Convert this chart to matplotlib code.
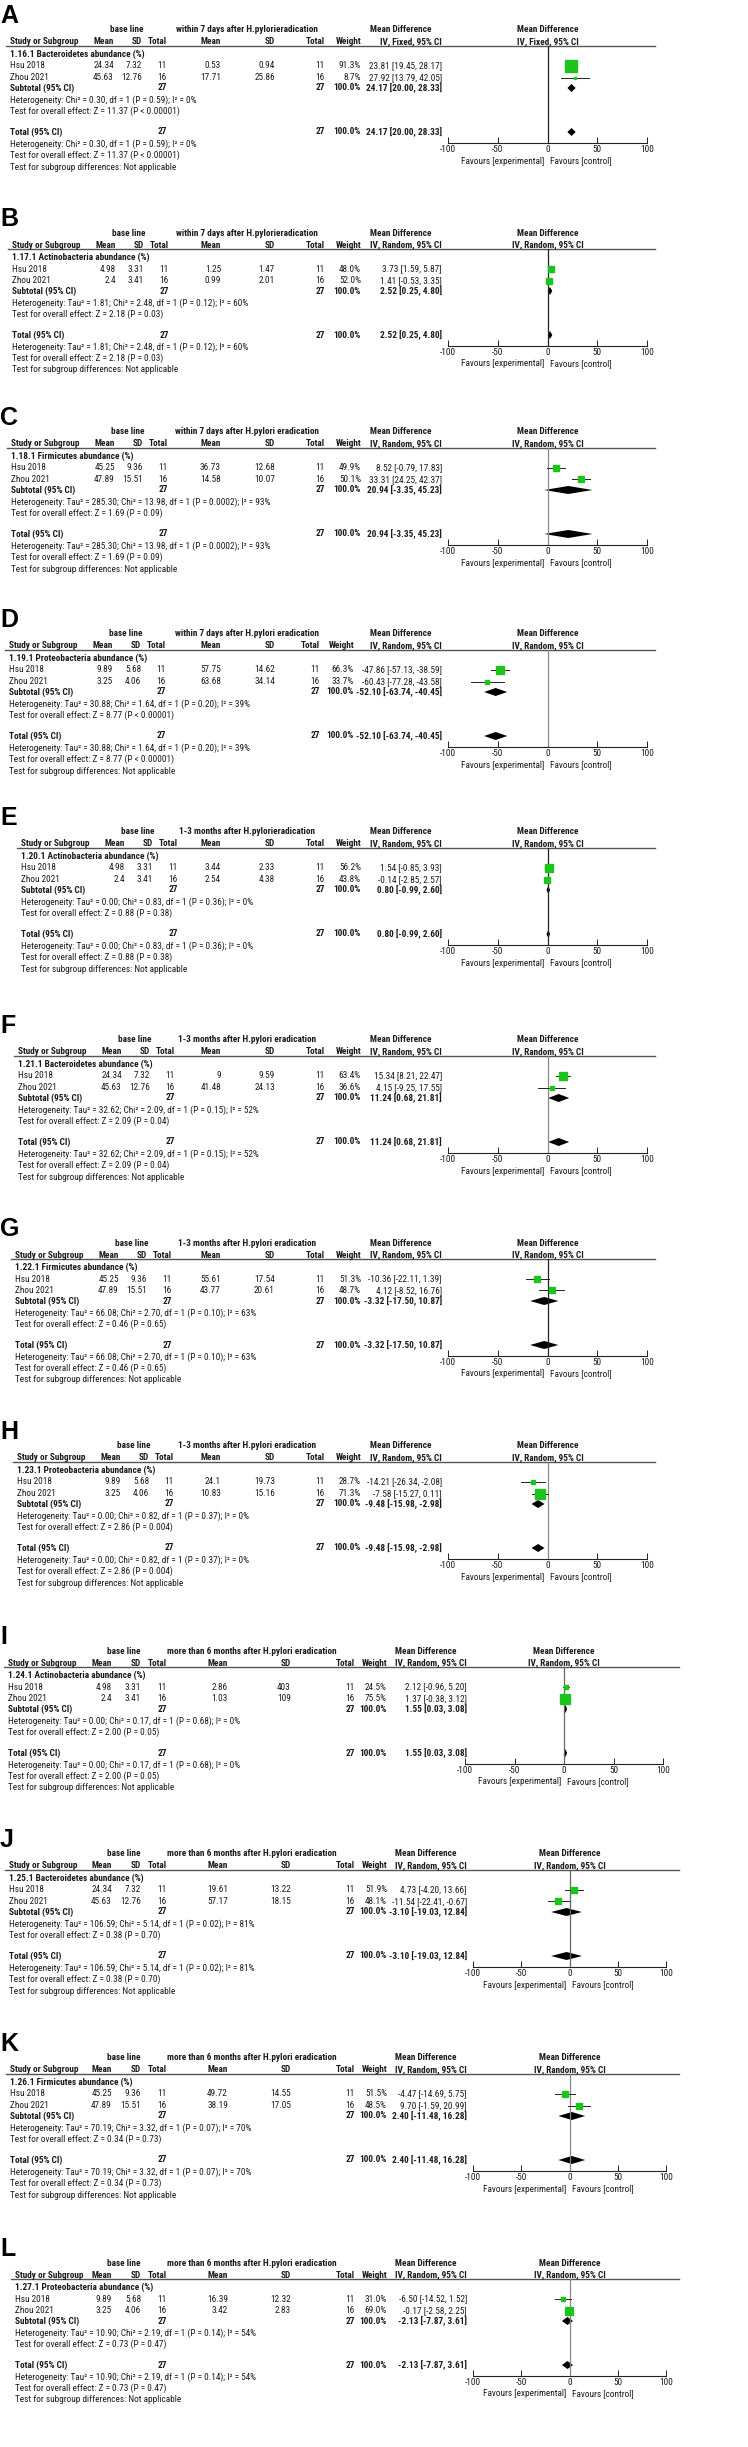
import numpy as np
import matplotlib
matplotlib.use("Agg")
import matplotlib.pyplot as plt
from matplotlib import font_manager as fm

# ---- data ----
letters = list("ABCDEFGHIJKL")
exp_labels = ["within 7 days after H.pylorieradication"] * 2 + \
             ["within 7 days after H.pylori eradication"] * 2 + \
             ["1-3 months after H.pylorieradication"] + \
             ["1-3 months after H.pylori eradication"] * 3 + \
             ["more than 6 months after H.pylori eradication"] * 4
models = ["Fixed"] + ["Random"] * 11
subgroups = ["1.16.1 Bacteroidetes abundance (%)", "1.17.1 Actinobacteria abundance (%)",
             "1.18.1 Firmicutes abundance (%)", "1.19.1 Proteobacteria abundance (%)",
             "1.20.1 Actinobacteria abundance (%)", "1.21.1 Bacteroidetes abundance (%)",
             "1.22.1 Firmicutes abundance (%)", "1.23.1 Proteobacteria abundance (%)",
             "1.24.1 Actinobacteria abundance (%)", "1.25.1 Bacteroidetes abundance (%)",
             "1.26.1 Firmicutes abundance (%)", "1.27.1 Proteobacteria abundance (%)"]
studies = ["Hsu 2018", "Zhou 2021"]
n_base = [11, 16]
n_exp = [11, 16]

bact_base = [["24.34", "45.63"], ["7.32", "12.76"]]
acti_base = [["4.98", "2.4"], ["3.31", "3.41"]]
firm_base = [["45.25", "47.89"], ["9.36", "15.51"]]
prot_base = [["9.89", "3.25"], ["5.68", "4.06"]]
base_vals = [bact_base, acti_base, firm_base, prot_base,
             acti_base, bact_base, firm_base, prot_base,
             acti_base, bact_base, firm_base, prot_base]

exp_mean = [["0.53", "17.71"], ["1.25", "0.99"], ["36.73", "14.58"], ["57.75", "63.68"],
            ["3.44", "2.54"], ["9", "41.48"], ["55.61", "43.77"], ["24.1", "10.83"],
            ["2.86", "1.03"], ["19.61", "57.17"], ["49.72", "38.19"], ["16.39", "3.42"]]
exp_sd = [["0.94", "25.86"], ["1.47", "2.01"], ["12.68", "10.07"], ["14.62", "34.14"],
          ["2.33", "4.38"], ["9.59", "24.13"], ["17.54", "20.61"], ["19.73", "15.16"],
          ["403", "109"], ["13.22", "18.15"], ["14.55", "17.05"], ["12.32", "2.83"]]
weights = [[91.3, 8.7], [48.0, 52.0], [49.9, 50.1], [66.3, 33.7], [56.2, 43.8], [63.4, 36.6],
           [51.3, 48.7], [28.7, 71.3], [24.5, 75.5], [51.9, 48.1], [51.5, 48.5], [31.0, 69.0]]
md = [[23.81, 27.92], [3.73, 1.41], [8.52, 33.31], [-47.86, -60.43], [1.54, -0.14], [15.34, 4.15],
      [-10.36, 4.12], [-14.21, -7.58], [2.12, 1.37], [4.73, -11.54], [-4.47, 9.70], [-6.50, -0.17]]
md_lo = [[19.45, 13.79], [1.59, -0.53], [-0.79, 24.25], [-57.13, -77.28], [-0.85, -2.85],
         [8.21, -9.25], [-22.11, -8.52], [-26.34, -15.27], [-0.96, -0.38], [-4.20, -22.41],
         [-14.69, -1.59], [-14.52, -2.58]]
md_hi = [[28.17, 42.05], [5.87, 3.35], [17.83, 42.37], [-38.59, -43.58], [3.93, 2.57],
         [22.47, 17.55], [1.39, 16.76], [-2.08, 0.11], [5.20, 3.12], [13.66, -0.67],
         [5.75, 20.99], [1.52, 2.25]]
pooled = [24.17, 2.52, 20.94, -52.10, 0.80, 11.24, -3.32, -9.48, 1.55, -3.10, 2.40, -2.13]
pooled_lo = [20.00, 0.25, -3.35, -63.74, -0.99, 0.68, -17.50, -15.98, 0.03, -19.03, -11.48, -7.87]
pooled_hi = [28.33, 4.80, 45.23, -40.45, 2.60, 21.81, 10.87, -2.98, 3.08, 12.84, 16.28, 3.61]
heterogeneity = ["Chi² = 0.30, df = 1 (P = 0.59); I² = 0%",
                 "Tau² = 1.81; Chi² = 2.48, df = 1 (P = 0.12); I² = 60%",
                 "Tau² = 285.30; Chi² = 13.98, df = 1 (P = 0.0002); I² = 93%",
                 "Tau² = 30.88; Chi² = 1.64, df = 1 (P = 0.20); I² = 39%",
                 "Tau² = 0.00; Chi² = 0.83, df = 1 (P = 0.36); I² = 0%",
                 "Tau² = 32.62; Chi² = 2.09, df = 1 (P = 0.15); I² = 52%",
                 "Tau² = 66.08; Chi² = 2.70, df = 1 (P = 0.10); I² = 63%",
                 "Tau² = 0.00; Chi² = 0.82, df = 1 (P = 0.37); I² = 0%",
                 "Tau² = 0.00; Chi² = 0.17, df = 1 (P = 0.68); I² = 0%",
                 "Tau² = 106.59; Chi² = 5.14, df = 1 (P = 0.02); I² = 81%",
                 "Tau² = 70.19; Chi² = 3.32, df = 1 (P = 0.07); I² = 70%",
                 "Tau² = 10.90; Chi² = 2.19, df = 1 (P = 0.14); I² = 54%"]
overall_z = ["Z = 11.37 (P < 0.00001)", "Z = 2.18 (P = 0.03)", "Z = 1.69 (P = 0.09)",
             "Z = 8.77 (P < 0.00001)", "Z = 0.88 (P = 0.38)", "Z = 2.09 (P = 0.04)",
             "Z = 0.46 (P = 0.65)", "Z = 2.86 (P = 0.004)", "Z = 2.00 (P = 0.05)",
             "Z = 0.38 (P = 0.70)", "Z = 0.34 (P = 0.73)", "Z = 0.73 (P = 0.47)"]
ticks = [-100, -50, 0, 50, 100]

# ---- layout (pixels) ----
W, H = 748, 2447
top_y = [30, 233, 432, 634, 832, 1040, 1243, 1446, 1651, 1854, 2058, 2263]
left_x = [10, 12, 11, 9, 21, 18, 15, 17, 8, 9, 10, 15]
zero_col = ['#222222', '#222222', '#888888', '#888888', '#222222', '#888888',
            '#222222', '#888888', '#666666', '#666666', '#888888', '#888888']
short = dict(mean=114, sd=142, tot=167, emean=221, esd=275, etot=325, wt=361, ci=442,
             base_c=127, exp_c=247, md_c=401, fl=448, fr=647, line_end=655)
wide = dict(mean=112, sd=141, tot=167, emean=228, esd=291, etot=355, wt=387, ci=467,
            base_c=124, exp_c=252, md_c=426, fl=473, fr=666, line_end=679)
TXT = '#1a1a1a'
GREEN = '#1DC41D'

fig = plt.figure(figsize=(W / 100, H / 100), dpi=100)
tax = fig.add_axes([0, 0, 1, 1])
tax.set_xlim(0, W)
tax.set_ylim(H, 0)
tax.axis('off')
renderer = fig.canvas.get_renderer()

# the original uses a narrow Arial-like face: take the narrowest installed candidate,
# then size it so a heterogeneity line is as wide as in the original (~185 px)
sample = "Heterogeneity: " + heterogeneity[0]
best, best_w = 'DejaVu Sans', None
for name in ['Liberation Sans Narrow', 'Roboto Condensed', 'DejaVu Sans Condensed',
             'Open Sans Condensed', 'Lato', 'Roboto', 'Liberation Sans', 'DejaVu Sans']:
    try:
        fm.findfont(fm.FontProperties(family=name), fallback_to_default=False)
    except Exception:
        continue
    t = tax.text(0, 0, sample, fontsize=10, family=[name, 'DejaVu Sans'])
    w = t.get_window_extent(renderer=renderer).width
    t.remove()
    if best_w is None or w < best_w:
        best, best_w = name, w
plt.rcParams['font.family'] = [best, 'DejaVu Sans']
FS = 10 * 185.0 / best_w


def put(x, y, s, ha='left', bold=False, size=None):
    tax.text(x, y, s, ha=ha, va='center', fontsize=size or FS, color=TXT,
             fontweight='bold' if bold else 'normal', family=[best, 'DejaVu Sans'])


for p in range(12):
    L = dict(short if p < 8 else wide)
    if p == 3:
        L['wt'], L['etot'] = 354, 320
    if p == 8:
        L['fl'], L['fr'] = 465, 663
    y0 = top_y[p]
    x0 = left_x[p]
    dx = x0 - 10 if p < 8 else 0
    zero_x = (L['fl'] + L['fr']) / 2

    tax.text(0, y0 - 14, letters[p], ha='left', va='center', fontsize=18,
             fontweight='bold', color='black', family=['Liberation Sans', 'DejaVu Sans'])

    # header
    put(L['base_c'] + dx, y0, "base line", 'center', True)
    put(L['exp_c'], y0, exp_labels[p], 'center', True)
    put(L['md_c'], y0, "Mean Difference", 'center', True)
    put(zero_x, y0, "Mean Difference", 'center', True)
    y1 = y0 + 12
    put(x0, y1, "Study or Subgroup", bold=True)
    for key, lab in [('mean', 'Mean'), ('sd', 'SD'), ('tot', 'Total')]:
        put(L[key] + dx, y1, lab, 'right', True)
    for key, lab in [('emean', 'Mean'), ('esd', 'SD'), ('etot', 'Total'), ('wt', 'Weight')]:
        put(L[key], y1, lab, 'right', True)
    method = "IV, %s, 95%% CI" % models[p]
    put(L['ci'], y1, method, 'right', True)
    put(zero_x, y1, method, 'center', True)
    tax.plot([x0 - 4, L['line_end']], [y0 + 16, y0 + 16], color='#555555', lw=1.0)

    put(x0, y0 + 24, subgroups[p], bold=True)
    row_y = [y0 + 36, y0 + 47.5]
    bm, bsd = base_vals[p]
    for i in range(2):
        y = row_y[i]
        put(x0, y, studies[i])
        put(L['mean'] + dx, y, bm[i], 'right')
        put(L['sd'] + dx, y, bsd[i], 'right')
        put(L['tot'] + dx, y, str(n_base[i]), 'right')
        put(L['emean'], y, exp_mean[p][i], 'right')
        put(L['esd'], y, exp_sd[p][i], 'right')
        put(L['etot'], y, str(n_exp[i]), 'right')
        put(L['wt'], y, "%.1f%%" % weights[p][i], 'right')
        put(L['ci'], y, "%.2f [%.2f, %.2f]" % (md[p][i], md_lo[p][i], md_hi[p][i]), 'right')

    pooled_txt = "%.2f [%.2f, %.2f]" % (pooled[p], pooled_lo[p], pooled_hi[p])
    sub_y, tot_y = y0 + 58, y0 + 102
    for yy, lab in [(sub_y, "Subtotal (95% CI)"), (tot_y, "Total (95% CI)")]:
        put(x0, yy, lab, bold=True)
        put(L['tot'] + dx, yy, str(sum(n_base)), 'right', True)
        put(L['etot'], yy, str(sum(n_exp)), 'right', True)
        put(L['wt'], yy, "100.0%", 'right', True)
        put(L['ci'], yy, pooled_txt, 'right', True)
    for yy in [y0 + 70, y0 + 114]:
        put(x0, yy, "Heterogeneity: " + heterogeneity[p])
    for yy in [y0 + 81.5, y0 + 125.5]:
        put(x0, yy, "Test for overall effect: " + overall_z[p])
    put(x0, y0 + 137, "Test for subgroup differences: Not applicable")

    # forest plot axes
    ytop, ybot = y0 + 16, y0 + 113
    ax = fig.add_axes([L['fl'] / W, 1 - ybot / H, (L['fr'] - L['fl']) / W, (ybot - ytop) / H])
    ax.patch.set_alpha(0)
    ax.set_xlim(-100, 100)
    ax.set_ylim(ybot, ytop)
    for s in ['top', 'left', 'right']:
        ax.spines[s].set_visible(False)
    ax.spines['bottom'].set_color('#222222')
    ax.spines['bottom'].set_linewidth(0.8)
    ax.set_xticks(ticks)
    ax.set_xticklabels([str(t) for t in ticks])
    ax.tick_params(axis='x', direction='in', length=4, width=0.7, pad=1.5,
                   labelsize=FS, labelcolor=TXT, colors='#222222')
    ax.set_yticks([])
    ax.axvline(0, color=zero_col[p], lw=0.9)
    for i in range(2):
        y = row_y[i]
        ax.plot([md_lo[p][i], md_hi[p][i]], [y, y], color='#222222', lw=0.7)
        ms = max(2.5, weights[p][i] * 0.13) * 0.72
        ax.plot(md[p][i], y, marker='s', ms=ms, color=GREEN, mec=GREEN, ls='none')
    for yy in [sub_y, tot_y]:
        ax.fill([pooled_lo[p], pooled[p], pooled_hi[p], pooled[p]],
                [yy, yy - 4, yy, yy + 4], color='black', lw=0)
    fy = y0 + 131
    put(zero_x - 3, fy, "Favours [experimental]", 'right')
    put(zero_x + 3, fy, "Favours [control]", 'left')

fig.savefig("out.png", dpi=100)
